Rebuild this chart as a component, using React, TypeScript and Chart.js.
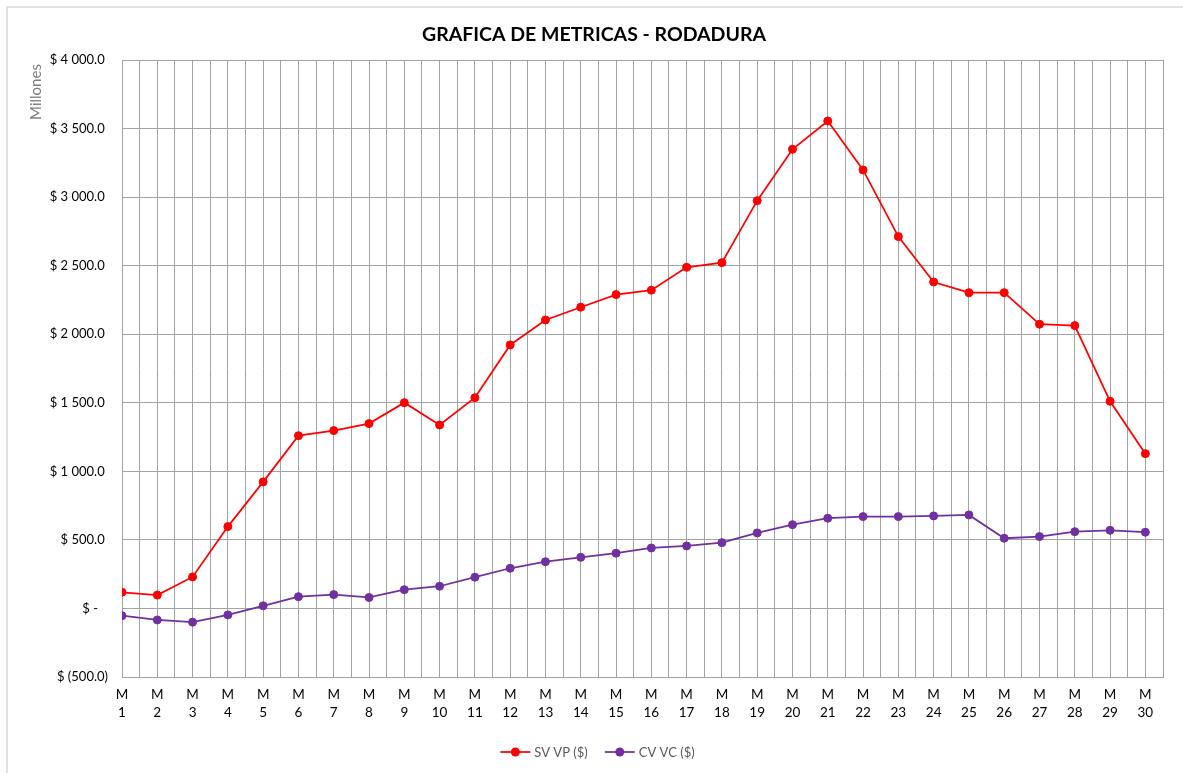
import React, { useEffect, useRef } from "react";
import { Chart, registerables } from "chart.js";

Chart.register(...registerables);

const chartTitle = "GRAFICA DE METRICAS - RODADURA";
const yAxisTitle = "Millones";

const categories = [
  "M 1", "M 2", "M 3", "M 4", "M 5", "M 6", "M 7", "M 8", "M 9", "M 10",
  "M 11", "M 12", "M 13", "M 14", "M 15", "M 16", "M 17", "M 18", "M 19", "M 20",
  "M 21", "M 22", "M 23", "M 24", "M 25", "M 26", "M 27", "M 28", "M 29", "M 30",
];

const svVpLabel = "SV VP ($)";
const svVp = [
  118, 98, 230, 597, 923, 1260, 1297, 1348, 1501, 1338,
  1537, 1922, 2104, 2197, 2289, 2321, 2488, 2522, 2974, 3349,
  3555, 3198, 2712, 2381, 2303, 2303, 2073, 2063, 1511, 1129,
];

const cvVcLabel = "CV VC ($)";
const cvVc = [
  -53, -84, -100, -47, 19, 86, 101, 80, 137, 162,
  228, 293, 341, 373, 403, 441, 456, 480, 551, 611,
  658, 670, 670, 675, 682, 512, 524, 560, 570, 556,
];

const yMin = -500;
const yMax = 4000;
const yStep = 500;

const FONT = "Lato, 'Noto Sans', 'DejaVu Sans', sans-serif";

function formatMoney(v: number): string {
  if (v === 0) return "$ -   ";
  const abs = Math.abs(v).toFixed(1);
  const [intPart, dec] = abs.split(".");
  const grouped = intPart.replace(/\B(?=(\d{3})+(?!\d))/g, " ");
  if (v < 0) return "$ (" + grouped + "." + dec + ")";
  return "$ " + grouped + "." + dec + " ";
}

const decorPlugin = {
  id: "decor",
  beforeDraw(chart: any) {
    const ctx = chart.ctx;
    ctx.save();
    ctx.strokeStyle = "#d9d9d9";
    ctx.lineWidth = 1.5;
    ctx.beginPath();
    ctx.moveTo(7, chart.height + 5);
    ctx.lineTo(7, 7);
    ctx.lineTo(chart.width + 5, 7);
    ctx.stroke();
    ctx.restore();
  },
  afterDraw(chart: any) {
    const ctx = chart.ctx;
    // title
    ctx.save();
    ctx.fillStyle = "#000000";
    ctx.font = "bold 19.5px " + FONT;
    ctx.textAlign = "center";
    ctx.textBaseline = "middle";
    ctx.fillText(chartTitle, 594, 35);
    ctx.restore();

    // y-axis title
    ctx.save();
    ctx.fillStyle = "#7f7f7f";
    ctx.font = "15px " + FONT;
    ctx.textAlign = "center";
    ctx.textBaseline = "middle";
    ctx.translate(36, 92);
    ctx.rotate(-Math.PI / 2);
    ctx.fillText(yAxisTitle, 0, 0);
    ctx.restore();

    // legend
    ctx.save();
    ctx.font = "13px " + FONT;
    ctx.textBaseline = "middle";
    const items = chart.data.datasets.map((d: any) => ({
      label: d.label,
      color: d.borderColor,
      w: ctx.measureText(d.label).width,
    }));
    const lineW = 30;
    const gap = 4;
    const itemGap = 17;
    let total = 0;
    items.forEach((it: any, i: number) => {
      total += lineW + gap + it.w + (i < items.length - 1 ? itemGap : 0);
    });
    let x = chart.width / 2 + 6 - total / 2;
    const y = 752;
    items.forEach((it: any) => {
      ctx.strokeStyle = it.color;
      ctx.lineWidth = 1.75;
      ctx.beginPath();
      ctx.moveTo(x, y);
      ctx.lineTo(x + lineW, y);
      ctx.stroke();
      ctx.fillStyle = it.color;
      ctx.beginPath();
      ctx.arc(x + lineW / 2, y, 4.5, 0, Math.PI * 2);
      ctx.fill();
      ctx.fillStyle = "#595959";
      ctx.textAlign = "left";
      ctx.fillText(it.label, x + lineW + gap, y + 0.5);
      x += lineW + gap + it.w + itemGap;
    });
    ctx.restore();
  },
};

export default function App() {
  const ref = useRef<HTMLCanvasElement | null>(null);

  useEffect(() => {
    document.body.style.margin = "0";
    const canvas = ref.current;
    if (!canvas) return;
    const toPoints = (arr: number[]) => arr.map((v, i) => ({ x: i + 1, y: v }));
    const chart = new Chart(canvas, {
      type: "line",
      data: {
        datasets: [
          {
            label: svVpLabel,
            data: toPoints(svVp),
            borderColor: "#FF0000",
            backgroundColor: "#FF0000",
            borderWidth: 1.75,
            pointRadius: 4,
            pointBorderWidth: 1,
            pointBackgroundColor: "#FF0000",
            pointBorderColor: "#FF0000",
            tension: 0,
          },
          {
            label: cvVcLabel,
            data: toPoints(cvVc),
            borderColor: "#7030A0",
            backgroundColor: "#7030A0",
            borderWidth: 1.75,
            pointRadius: 4,
            pointBorderWidth: 1,
            pointBackgroundColor: "#7030A0",
            pointBorderColor: "#7030A0",
            tension: 0,
          },
        ],
      },
      options: {
        responsive: false,
        animation: false,
        events: [],
        layout: { padding: { left: 0, right: 20, top: 60, bottom: 40 } },
        plugins: {
          legend: { display: false },
          tooltip: { enabled: false },
          title: { display: false },
        },
        scales: {
          x: {
            type: "linear",
            min: 1,
            max: categories.length + 0.5,
            afterBuildTicks(scale: any) {
              const t: any[] = [];
              for (let v = 1; v <= categories.length + 0.5; v += 0.5) t.push({ value: v });
              scale.ticks = t;
            },
            afterFit(scale: any) {
              scale.height = 56;
            },
            ticks: {
              autoSkip: false,
              maxRotation: 0,
              minRotation: 0,
              padding: 9,
              color: "#000000",
              font: { family: FONT, size: 13.5, lineHeight: 1.3 },
              callback(value: any) {
                const v = Number(value);
                if (Number.isInteger(v) && v >= 1 && v <= categories.length) {
                  return categories[v - 1].split(" ");
                }
                return "";
              },
            },
            grid: { color: "#a3a3a3", lineWidth: 1, drawTicks: false },
            border: { display: true, color: "#a3a3a3", width: 1 },
          },
          y: {
            type: "linear",
            min: yMin,
            max: yMax,
            afterFit(scale: any) {
              scale.width = 122;
            },
            ticks: {
              stepSize: yStep,
              padding: 14,
              color: "#000000",
              font: { family: FONT, size: 13 },
              callback(value: any) {
                return formatMoney(Number(value));
              },
            },
            grid: { color: "#a3a3a3", lineWidth: 1, drawTicks: false },
            border: { display: true, color: "#a3a3a3", width: 1 },
          },
        },
      },
      plugins: [decorPlugin],
    } as any);
    return () => chart.destroy();
  }, []);

  return (
    <div style={{ width: 1183, height: 773, background: "#ffffff" }}>
      <canvas ref={ref} width={1183} height={773} style={{ display: "block" }} />
    </div>
  );
}
